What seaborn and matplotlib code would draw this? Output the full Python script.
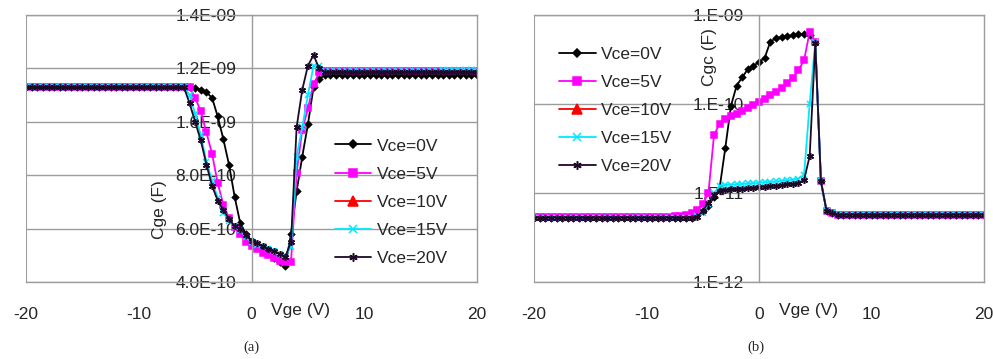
import matplotlib.pyplot as plt
import numpy as np
import pandas as pd
import seaborn as sns

# gate sweep, V
vge = np.arange(-20, 20.5, 0.5)

# (a) Cge, in units of 1e-10 F
cge_0v = [
    11.3, 11.3, 11.3, 11.3, 11.3, 11.3, 11.3, 11.3, 11.3, 11.3,
    11.3, 11.3, 11.3, 11.3, 11.3, 11.3, 11.3, 11.3, 11.3, 11.3,
    11.3, 11.3, 11.3, 11.3, 11.3, 11.3, 11.3, 11.3, 11.3, 11.3,
    11.25, 11.2, 11.1, 10.9, 10.2, 9.35, 8.4, 7.2, 6.2, 5.8,
    5.55, 5.4, 5.25, 5.1, 4.9, 4.75, 4.6, 5.8, 7.4, 8.7,
    9.9, 11.3, 11.6, 11.75, 11.75, 11.75, 11.75, 11.75, 11.75, 11.75,
    11.75, 11.75, 11.75, 11.75, 11.75, 11.75, 11.75, 11.75, 11.75, 11.75,
    11.75, 11.75, 11.75, 11.75, 11.75, 11.75, 11.75, 11.75, 11.75, 11.75,
    11.75,
]
cge_5v = [
    11.3, 11.3, 11.3, 11.3, 11.3, 11.3, 11.3, 11.3, 11.3, 11.3,
    11.3, 11.3, 11.3, 11.3, 11.3, 11.3, 11.3, 11.3, 11.3, 11.3,
    11.3, 11.3, 11.3, 11.3, 11.3, 11.3, 11.3, 11.3, 11.3, 11.3,
    10.9, 10.4, 9.6, 8.8, 7.7, 6.9, 6.4, 6.05, 5.8, 5.5,
    5.35, 5.25, 5.1, 5.0, 4.9, 4.8, 4.75, 4.75, 8.1, 9.7,
    10.5, 11.4, 11.85, 11.9, 11.9, 11.9, 11.9, 11.9, 11.9, 11.9,
    11.9, 11.9, 11.9, 11.9, 11.9, 11.9, 11.9, 11.9, 11.9, 11.9,
    11.9, 11.9, 11.9, 11.9, 11.9, 11.9, 11.9, 11.9, 11.9, 11.9,
    11.9,
]
cge_10v = []  # the red 10 V trace does not show in the figure, legend only
cge_15v = [
    11.3, 11.3, 11.3, 11.3, 11.3, 11.3, 11.3, 11.3, 11.3, 11.3,
    11.3, 11.3, 11.3, 11.3, 11.3, 11.3, 11.3, 11.3, 11.3, 11.3,
    11.3, 11.3, 11.3, 11.3, 11.3, 11.3, 11.3, 11.3, 11.3, 11.0,
    10.3, 9.5, 8.5, 7.8, 7.15, 6.6, 6.3, 6.1, 5.95, 5.7,
    5.5, 5.4, 5.35, 5.25, 5.15, 5.05, 5.0, 5.3, 8.7, 9.8,
    11.0, 12.1, 12.1, 11.9, 11.9, 11.9, 11.9, 11.9, 11.9, 11.9,
    11.9, 11.9, 11.9, 11.9, 11.9, 11.9, 11.9, 11.9, 11.9, 11.9,
    11.9, 11.9, 11.9, 11.9, 11.95, 11.95, 11.95, 11.95, 11.95, 11.95,
    11.95,
]
cge_20v = [
    11.3, 11.3, 11.3, 11.3, 11.3, 11.3, 11.3, 11.3, 11.3, 11.3,
    11.3, 11.3, 11.3, 11.3, 11.3, 11.3, 11.3, 11.3, 11.3, 11.3,
    11.3, 11.3, 11.3, 11.3, 11.3, 11.3, 11.3, 11.3, 11.3, 10.7,
    10.0, 9.3, 8.4, 7.6, 7.05, 6.7, 6.35, 6.1, 6.0, 5.75,
    5.55, 5.45, 5.35, 5.25, 5.15, 5.05, 4.95, 5.5, 9.8, 11.2,
    12.1, 12.5, 12.0, 11.85, 11.85, 11.85, 11.85, 11.85, 11.85, 11.85,
    11.85, 11.85, 11.85, 11.85, 11.85, 11.85, 11.85, 11.85, 11.85, 11.85,
    11.85, 11.85, 11.85, 11.85, 11.85, 11.85, 11.85, 11.85, 11.85, 11.85,
    11.85,
]

# (b) Cgc, in pF
cgc_0v = [
    5.3, 5.3, 5.3, 5.3, 5.3, 5.3, 5.3, 5.3, 5.3, 5.3,
    5.3, 5.3, 5.3, 5.3, 5.3, 5.3, 5.3, 5.3, 5.3, 5.3,
    5.3, 5.3, 5.3, 5.3, 5.3, 5.3, 5.3, 5.3, 5.3, 5.6,
    6.2, 7.2, 9.0, 11.5, 32, 95, 160, 200, 245, 270,
    295, 330, 500, 550, 565, 580, 595, 605, 615, 600,
    480, 13.5, 6.3, 5.9, 5.7, 5.7, 5.7, 5.7, 5.7, 5.7,
    5.7, 5.7, 5.7, 5.7, 5.7, 5.7, 5.7, 5.7, 5.7, 5.7,
    5.7, 5.7, 5.7, 5.7, 5.7, 5.7, 5.7, 5.7, 5.7, 5.7,
    5.7,
]
cgc_5v = [
    5.4, 5.4, 5.4, 5.4, 5.4, 5.4, 5.4, 5.4, 5.4, 5.4,
    5.4, 5.4, 5.4, 5.4, 5.4, 5.4, 5.4, 5.4, 5.4, 5.4,
    5.4, 5.4, 5.4, 5.4, 5.4, 5.5, 5.5, 5.6, 5.9, 6.4,
    7.5, 10, 45, 60, 68, 74, 78, 84, 90, 97,
    105, 114, 125, 137, 150, 170, 195, 240, 310, 650,
    500, 13.5, 6.3, 5.9, 5.7, 5.7, 5.7, 5.7, 5.7, 5.7,
    5.7, 5.7, 5.7, 5.7, 5.7, 5.7, 5.7, 5.7, 5.7, 5.7,
    5.7, 5.7, 5.7, 5.7, 5.7, 5.7, 5.7, 5.7, 5.7, 5.7,
    5.7,
]
cgc_10v = []  # not visible in the figure either
cgc_15v = [
    5.3, 5.3, 5.3, 5.3, 5.3, 5.3, 5.3, 5.3, 5.3, 5.3,
    5.3, 5.3, 5.3, 5.3, 5.3, 5.3, 5.3, 5.3, 5.3, 5.3,
    5.3, 5.3, 5.3, 5.3, 5.3, 5.3, 5.3, 5.3, 5.3, 5.5,
    6.0, 7.5, 10, 12, 12.3, 12.4, 12.5, 12.6, 12.8, 12.9,
    13.0, 13.2, 13.3, 13.5, 13.7, 13.9, 14.1, 14.5, 16, 100,
    500, 13.5, 6.3, 5.9, 5.7, 5.7, 5.7, 5.7, 5.7, 5.7,
    5.7, 5.7, 5.7, 5.7, 5.7, 5.7, 5.7, 5.7, 5.7, 5.7,
    5.7, 5.7, 5.7, 5.7, 5.7, 5.7, 5.7, 5.7, 5.7, 5.7,
    5.7,
]
cgc_20v = [
    5.3, 5.3, 5.3, 5.3, 5.3, 5.3, 5.3, 5.3, 5.3, 5.3,
    5.3, 5.3, 5.3, 5.3, 5.3, 5.3, 5.3, 5.3, 5.3, 5.3,
    5.3, 5.3, 5.3, 5.3, 5.3, 5.3, 5.3, 5.3, 5.3, 5.4,
    6.3, 7.8, 9.5, 10.5, 10.8, 11.0, 11.1, 11.2, 11.4, 11.5,
    11.6, 11.8, 11.9, 12.1, 12.3, 12.5, 12.7, 13.0, 14, 26,
    480, 13.5, 6.3, 5.9, 5.7, 5.7, 5.7, 5.7, 5.7, 5.7,
    5.7, 5.7, 5.7, 5.7, 5.7, 5.7, 5.7, 5.7, 5.7, 5.7,
    5.7, 5.7, 5.7, 5.7, 5.7, 5.7, 5.7, 5.7, 5.7, 5.7,
    5.7,
]

labels = ["Vce=0V", "Vce=5V", "Vce=10V", "Vce=15V", "Vce=20V"]
colors = ["#000000", "#ff00ff", "#ff0000", "#00e8ff", "#1e0a28"]
markers = ["D", "s", "^", "x", (6, 2, 0)]
msizes = [3.2, 4.5, 6, 4.5, 5]

cge_ticks = [4e-10, 6e-10, 8e-10, 10e-10, 12e-10, 14e-10]
cge_ticklabels = ["4.0E-10", "6.0E-10", "8.0E-10", "1.0E-09", "1.2E-09", "1.4E-09"]
cgc_ticks = [1e-12, 1e-11, 1e-10, 1e-9]
cgc_ticklabels = ["1.E-12", "1.E-11", "1.E-10", "1.E-09"]
x_ticks = [-20, -10, 0, 10, 20]

sns.set_style("white")
plt.rcParams["font.family"] = ["Liberation Sans", "DejaVu Sans"]
gray = "#9c9c9c"

fig = plt.figure(figsize=(9.93, 3.59), dpi=100)
ax1 = fig.add_axes([0.0262, 0.2145, 0.4542, 0.7437])
ax2 = fig.add_axes([0.5378, 0.2145, 0.4532, 0.7437])

def draw(ax, series, scale):
    for vals, lab, c, m, ms in zip(series, labels, colors, markers, msizes):
        kw = dict(color=c, marker=m, markersize=ms, markeredgecolor=c,
                  markeredgewidth=1.1, linewidth=1.3, label=lab)
        if len(vals) == 0:
            ax.plot([], [], **kw)
        else:
            sns.lineplot(x=vge, y=np.array(vals) * scale, ax=ax, **kw)

def frame(ax):
    ax.set_axisbelow(True)
    for s in ax.spines.values():
        s.set_color(gray)
        s.set_linewidth(1)
    ax.spines["left"].set_position(("data", 0))
    ax.axvline(-20, color=gray, lw=1.5)
    ax.set_xlim(-20, 20)
    ax.set_xticks(x_ticks)
    ax.set_xticklabels([str(v) for v in x_ticks])
    ax.tick_params(axis="x", direction="in", length=4, color=gray, pad=18, labelsize=12.5)
    ax.tick_params(axis="y", length=0, pad=11, labelsize=12.5)
    ax.grid(axis="y", color=gray, lw=1)
    ax.grid(axis="x", visible=False)
    ax.set_xlabel("")
    ax.set_ylabel("")

def legend(ax, anchor):
    ax.legend(loc="upper left", bbox_to_anchor=anchor, frameon=False, fontsize=12.5,
              handlelength=2.1, handletextpad=0.3, labelspacing=0.75, borderpad=0,
              borderaxespad=0, markerscale=1.2)

draw(ax1, [cge_0v, cge_5v, cge_10v, cge_15v, cge_20v], 1e-10)
frame(ax1)
ax1.set_ylim(4e-10, 14e-10)
ax1.set_yticks(cge_ticks)
ax1.set_yticklabels(cge_ticklabels)
ax1.text(0.609, -0.105, "Vge (V)", transform=ax1.transAxes, ha="center", va="center", fontsize=12.5)
ax1.text(0.297, 0.27, "Cge (F)", transform=ax1.transAxes, ha="center", va="center",
         rotation=90, fontsize=12.5)
legend(ax1, (0.685, 0.538))

draw(ax2, [cgc_0v, cgc_5v, cgc_10v, cgc_15v, cgc_20v], 1e-12)
frame(ax2)
ax2.set_yscale("log")
ax2.set_ylim(1e-12, 1e-9)
ax2.set_yticks(cgc_ticks)
ax2.set_yticklabels(cgc_ticklabels)
ax2.yaxis.set_minor_locator(plt.NullLocator())
ax2.text(0.61, -0.105, "Vge (V)", transform=ax2.transAxes, ha="center", va="center", fontsize=12.5)
ax2.text(0.39, 0.844, "Cgc (F)", transform=ax2.transAxes, ha="center", va="center",
         rotation=90, fontsize=12.5)
legend(ax2, (0.056, 0.882))

fig.text(251 / 993, 1 - 347 / 359, "(a)", family="Liberation Serif", fontsize=10.5,
         ha="center", va="center")
fig.text(756 / 993, 1 - 347 / 359, "(b)", family="Liberation Serif", fontsize=10.5,
         ha="center", va="center")

fig.savefig("out.png", dpi=100)
